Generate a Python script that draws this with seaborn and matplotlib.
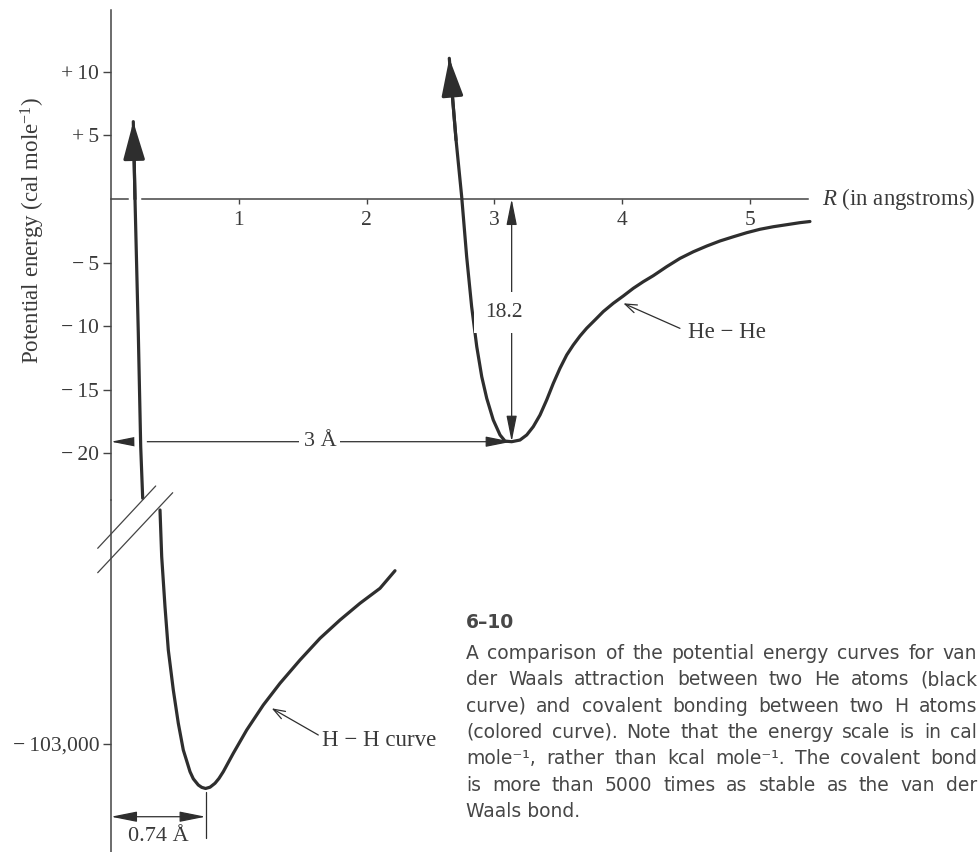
import matplotlib
matplotlib.use("Agg")
import matplotlib.pyplot as plt
import matplotlib.patheffects as pe
from matplotlib.lines import Line2D
import seaborn as sns

# He-He (van der Waals) curve: R in angstroms, energy in cal/mole
he_r = [2.647, 2.700, 2.744, 2.783, 2.822, 2.862, 2.901, 2.940, 2.991, 3.044, 3.083, 3.135,
        3.200, 3.253, 3.304, 3.357, 3.409, 3.461, 3.513, 3.566, 3.617, 3.670, 3.722, 3.787,
        3.852, 3.930, 4.009, 4.087, 4.165, 4.243, 4.348, 4.452, 4.556, 4.661, 4.765, 4.869,
        4.974, 5.078, 5.182, 5.287, 5.391, 5.469]
he_e = [11.06, 4.64, 0.18, -4.54, -8.47, -11.61, -13.97, -15.67, -17.37, -18.55, -19.03, -19.08,
        -18.95, -18.55, -17.90, -16.98, -15.80, -14.49, -13.31, -12.26, -11.48, -10.77, -10.16,
        -9.51, -8.85, -8.20, -7.62, -7.02, -6.50, -6.03, -5.32, -4.67, -4.15, -3.70, -3.30,
        -2.97, -2.65, -2.38, -2.18, -2.02, -1.86, -1.77]

# H-H (covalent) curve, above and below the axis break
hh_r_top = [0.1745, 0.1878, 0.2136, 0.2324, 0.2480]
hh_e_top = [6.08, 0.0, -10.53, -19.47, -23.53]
hh_r_low = [0.3834, 0.3967, 0.4225, 0.4484, 0.4875, 0.5266, 0.5657, 0.592, 0.6182, 0.644,
            0.6831, 0.71, 0.74, 0.775, 0.8138, 0.845, 0.8787, 0.9570, 1.0618, 1.1917, 1.3224,
            1.4789, 1.6354, 1.7919, 1.9484, 2.1049, 2.2222]
hh_e_low = [-73750, -79590, -85840, -91250, -96250, -100410, -103750, -105100, -106460, -107350,
            -108125, -108420, -108560, -108400, -107910, -107300, -106460, -104160, -101250,
            -98125, -95410, -92500, -89790, -87500, -85410, -83540, -81340]

x_ticks = [1, 2, 3, 4, 5]
y_ticks_top = [10, 5, -5, -10, -15, -20]
y_labels_top = ["+\u200910", "+\u20095", "\u2212\u20095", "\u2212\u200910", "\u2212\u200915",
                "\u2212\u200920"]
y_ticks_low = [-103000]
y_labels_low = ["\u2212\u2009103,000"]

caption_title = "6\u201310"
caption = [
    "A comparison of the potential energy curves for van",
    "der Waals attraction between two He atoms (black",
    "curve) and covalent bonding between two H atoms",
    "(colored curve).  Note that the energy scale is in cal",
    "mole\u207b\u00b9, rather than kcal mole\u207b\u00b9.  The covalent bond",
    "is more than 5000 times as stable as the van der",
    "Waals bond.",
]

W, H = 979, 852
INK = "#2e2e2e"
TXT = "#3a3a3a"

sns.set_style("ticks")
plt.rcParams["font.family"] = ["Liberation Serif", "DejaVu Serif"]
plt.rcParams["mathtext.fontset"] = "custom"
plt.rcParams["mathtext.rm"] = "Liberation Serif"
plt.rcParams["mathtext.it"] = "Liberation Serif:italic"

fig = plt.figure(figsize=(W / 100, H / 100), dpi=100)
fig.patch.set_facecolor("white")

left = 111 / W
ax = fig.add_axes([left, (H - 500) / H, 1 - left, 490 / H])
ax2 = fig.add_axes([left, 0, 1 - left, (H - 500) / H])
for a in (ax, ax2):
    a.set_facecolor("none")
    a.set_xlim(0, 868 / 127.8)
    a.spines[["top", "right"]].set_visible(False)
    a.spines["left"].set_color("#444444")
    a.spines["left"].set_linewidth(1.1)
ax.set_ylim(-301 / 12.72, 189 / 12.72)
ax2.set_ylim(-116500, -72500)

# x axis drawn through zero
ax.spines["bottom"].set_position(("data", 0))
ax.spines["bottom"].set_bounds(0, 5.45)
ax.spines["bottom"].set_color("#444444")
ax.spines["bottom"].set_linewidth(1.1)
ax2.spines["bottom"].set_visible(False)

ax.set_xticks(x_ticks)
ax.set_xticklabels([str(t) for t in x_ticks])
ax.set_yticks(y_ticks_top)
ax.set_yticklabels(y_labels_top)
ax2.set_yticks(y_ticks_low)
ax2.set_yticklabels(y_labels_low)
ax2.tick_params(axis="x", bottom=False, labelbottom=False)
for a in (ax, ax2):
    a.tick_params(axis="y", direction="out", length=5.5, width=1.0, pad=3,
                  labelsize=15.5, colors="#444444", labelcolor=TXT)
ax.tick_params(axis="x", direction="out", length=3.5, width=1.0, pad=5,
               labelsize=15.5, colors="#444444", labelcolor=TXT)

# curves
sns.lineplot(x=he_r, y=he_e, ax=ax, color=INK, lw=2.3, sort=False, estimator=None, zorder=3)
sns.lineplot(x=hh_r_top, y=hh_e_top, ax=ax, color=INK, lw=2.3, sort=False, estimator=None,
             zorder=4, path_effects=[pe.Stroke(linewidth=9, foreground="white"), pe.Normal()])
sns.lineplot(x=hh_r_low, y=hh_e_low, ax=ax2, color=INK, lw=2.3, sort=False, estimator=None,
             zorder=3)

# arrowheads on the repulsive ends
big_head = dict(arrowstyle="-|>,head_length=1.15,head_width=0.33", mutation_scale=20,
                color=INK, lw=2.3, shrinkA=0, shrinkB=0)
ax.annotate("", xy=(he_r[0], he_e[0]), xytext=(he_r[1], he_e[1]), arrowprops=big_head, zorder=6)
ax.annotate("", xy=(hh_r_top[0], hh_e_top[0]), xytext=(hh_r_top[1], hh_e_top[1]),
            arrowprops=big_head, zorder=6)

# dimension arrows
dim = dict(arrowstyle="<|-|>,head_length=1.6,head_width=0.32", mutation_scale=10,
           color=INK, lw=0.9, shrinkA=0, shrinkB=0)
i_he = he_e.index(min(he_e))
he_min_r, he_min_e = he_r[i_he], he_e[i_he]
ax.annotate("", xy=(0, he_min_e), xytext=(he_min_r, he_min_e), arrowprops=dim, zorder=2)
ax.text(1.635, he_min_e, "3 \u00c5", ha="center", va="center", fontsize=16, color=TXT,
        zorder=5, bbox=dict(fc="white", ec="none", pad=3))
ax.annotate("", xy=(he_min_r, 0), xytext=(he_min_r, he_min_e), arrowprops=dim, zorder=2)
ax.text(he_min_r - 0.06, -8.9, "18.2", ha="center", va="center", fontsize=15.5, color=TXT,
        zorder=5, bbox=dict(fc="white", ec="none", pad=8))

i_hh = hh_e_low.index(min(hh_e_low))
hh_min_r, hh_min_e = hh_r_low[i_hh], hh_e_low[i_hh]
ax2.annotate("", xy=(0, -112090), xytext=(hh_min_r, -112090), arrowprops=dim)
ax2.plot([hh_min_r, hh_min_r], [hh_min_e - 500, -114750], color=INK, lw=0.9)
ax2.text(0.368, -114590, "0.74 \u00c5", ha="center", va="center", fontsize=16, color=TXT)

# curve labels
lab = dict(arrowstyle="->,head_length=0.7,head_width=0.25", mutation_scale=12,
           color=INK, lw=0.9, shrinkA=0, shrinkB=0)
ax.annotate("", xy=(4.009, -8.2), xytext=(4.452, -10.17), arrowprops=lab)
ax.text(4.515, -10.53, "He \u2212 He", ha="left", va="center", fontsize=16.5, color=TXT)
ax2.annotate("", xy=(1.2574, -98537), xytext=(1.6221, -101875), arrowprops=lab)
ax2.text(1.6495, -102500, "H \u2212 H curve", ha="left", va="center", fontsize=16.5, color=TXT)

ax.text(5.563, 0, "$R$ (in angstroms)", ha="left", va="center", fontsize=16.5, color=TXT)
fig.text(33 / W, 1 - 97 / H, "Potential energy (cal mole$^{-1}$)", rotation=90,
         ha="center", va="top", fontsize=16.5, color=TXT)

# axis break marks
for (x0, y0), (x1, y1) in [((97.7, 548.3), (155.7, 486.0)), ((97.7, 572.7), (172.7, 492.7))]:
    fig.add_artist(Line2D([x0 / W, x1 / W], [1 - y0 / H, 1 - y1 / H], transform=fig.transFigure,
                          color="#444444", lw=0.9))

# caption, justified like the book
sans = dict(family=["DejaVu Sans"], fontsize=13.5, color="#474747")
fig.text(466 / W, 1 - 628 / H, caption_title, va="baseline", fontweight="bold", **sans)
renderer = fig.canvas.get_renderer()
x_left, x_right = 466 / W, 977 / W
for i, line in enumerate(caption):
    y = 1 - (658.7 + 26.4 * i) / H
    words = line.split()
    if i == len(caption) - 1:
        fig.text(x_left, y, line, va="baseline", **sans)
        continue
    arts = [fig.text(0, y, w, va="baseline", **sans) for w in words]
    widths = [t.get_window_extent(renderer).width / W for t in arts]
    gap = (x_right - x_left - sum(widths)) / (len(words) - 1)
    x = x_left
    for t, w in zip(arts, widths):
        t.set_x(x)
        x += w + gap

fig.savefig("out.png", dpi=100)
plt.close(fig)
